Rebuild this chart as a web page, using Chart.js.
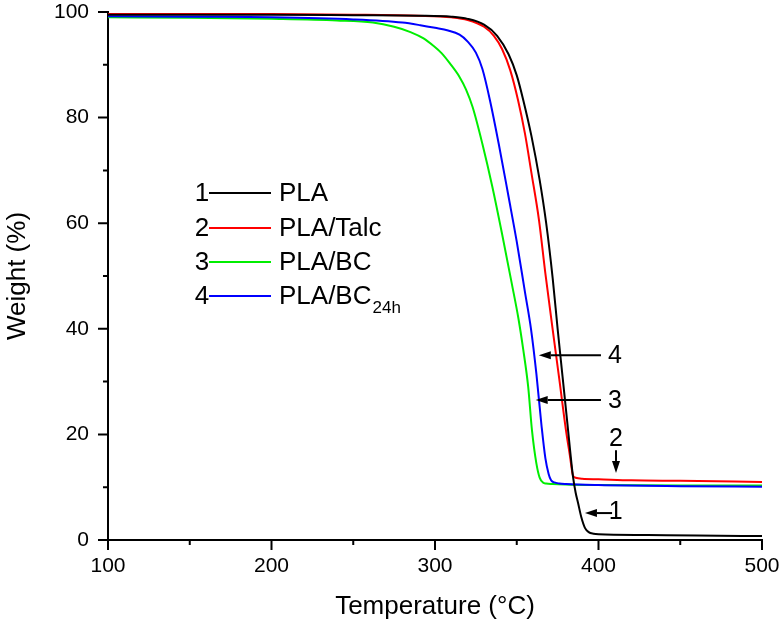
<!DOCTYPE html>
<html><head><meta charset="utf-8">
<script src="https://cdn.jsdelivr.net/npm/chart.js@4/dist/chart.umd.min.js"></script>
<style>html,body{margin:0;padding:0;background:#fff}</style>
</head><body>
<canvas id="c" width="782" height="625"></canvas>
<script>
// ---- data ----
const tempPLA   = [100,150,200,250,290,310,320,330,338,345,350,354,359,364,368,372,375,378,381,384.4,386,387.5,389.5,391.7,394,397,400,430,460,500];
const weightPLA = [99.5,99.5,99.5,99.4,99.3,99.1,98.7,97.6,95.5,92,88,83.3,76.5,68.2,60,49.5,40,31,22,12,9,7,4.3,2.3,1.5,1.2,1.1,0.95,0.85,0.75];

const tempTalc   = [100,150,200,250,290,310,320,330,336,341,346,350.8,355,359,363.6,367.5,372,376,380,382.5,384.4,386,390,400,420,450,500];
const weightTalc = [99.6,99.6,99.6,99.5,99.3,99.0,98.5,97.2,95.5,93,89,83.3,77,69.5,60.6,50.5,39.8,30.5,21,16,12.2,11.8,11.6,11.5,11.3,11.2,11.0];

const tempBC   = [100,150,200,240,262,275,285,293,299,304,309,315,319,323,329,335,341,347,351,354,357,359.3,362,364,366,368,372,380,400,450,500];
const weightBC = [99.0,98.9,98.7,98.4,98.0,97.2,96.2,95.0,93.6,92.2,90.3,87.7,85.3,82,75,67,58,48.5,42,36,29,20.8,14.5,11.8,10.9,10.7,10.6,10.5,10.4,10.3,10.3];

const tempBC24   = [100,150,200,250,280,291,300,308,315,320,325,329,333.6,339,345,350,355,358.7,362,365.2,367.5,369.5,371,373,376,380,400,450,500];
const weightBC24 = [99.2,99.1,99.0,98.6,98.0,97.5,97.0,96.5,95.7,94.4,92.3,89.2,83.3,75,65,56.5,47,40,31.5,21.5,15.5,12.5,11.3,10.9,10.7,10.6,10.4,10.2,10.1];

const seriesNumbers = ['1','2','3','4'];
const seriesNames   = ['PLA','PLA/Talc','PLA/BC','PLA/BC'];
const seriesSubs    = ['','','','24h'];
const seriesColors  = ['#000000','#ff0000','#00ee00','#0000ff'];

const xMajorTicks = [100,200,300,400,500];
const xMinorTicks = [150,250,350,450];
const yMajorTicks = [0,20,40,60,80,100];
const yMinorTicks = [10,30,50,70,90];

// annotation markers (data units): label position and arrow from -> to
const annLabels = ['4','3','2','1'];
const annLabelX = [410, 410, 410.7, 410.5];
const annLabelY = [35.0, 26.5, 19.3, 5.5];
const annFromX  = [401.5, 401.5, 410.7, 408.3];
const annFromY  = [35.0, 26.5, 17.0, 5.1];
const annToX    = [363.5, 361.6, 410.7, 391.7];
const annToY    = [35.0, 26.5, 12.7, 5.1];

const FONT = '"Liberation Sans", Arial, Helvetica, sans-serif';

function pts(t, w){ return t.map((v,i)=>({x:v,y:w[i]})); }
const allSeries = [[tempPLA,weightPLA],[tempTalc,weightTalc],[tempBC,weightBC],[tempBC24,weightBC24]];

const datasets = allSeries.map((s,i)=>({
  label: seriesNames[i] + seriesSubs[i],
  data: pts(s[0], s[1]),
  borderColor: seriesColors[i],
  borderWidth: 2,
  pointRadius: 0,
  fill: false,
  cubicInterpolationMode: 'monotone'
}));
datasets.forEach((d,i)=>{ d.order = [1,2,4,3][i]; });

function arrow(ctx, x1, y1, x2, y2){
  const ang = Math.atan2(y2-y1, x2-x1);
  const hl = 12, hw = 4;
  const bx = x2 - hl*Math.cos(ang), by = y2 - hl*Math.sin(ang);
  ctx.beginPath(); ctx.moveTo(x1,y1); ctx.lineTo(bx,by); ctx.stroke();
  ctx.beginPath();
  ctx.moveTo(x2,y2);
  ctx.lineTo(bx + hw*Math.sin(ang), by - hw*Math.cos(ang));
  ctx.lineTo(bx - hw*Math.sin(ang), by + hw*Math.cos(ang));
  ctx.closePath(); ctx.fill();
}

const decor = {
  id: 'decor',
  afterDraw(chart){
    const {ctx, scales:{x, y}} = chart;
    ctx.save();
    ctx.strokeStyle = '#000'; ctx.fillStyle = '#000'; ctx.lineWidth = 2;
    const xl = chart.chartArea.left, yb = chart.chartArea.bottom;
    ctx.beginPath();
    xMajorTicks.forEach(v=>{ const p=x.getPixelForValue(v); ctx.moveTo(p,yb); ctx.lineTo(p,yb+10); });
    xMinorTicks.forEach(v=>{ const p=x.getPixelForValue(v); ctx.moveTo(p,yb); ctx.lineTo(p,yb+5); });
    yMajorTicks.forEach(v=>{ const p=y.getPixelForValue(v); ctx.moveTo(xl,p); ctx.lineTo(xl-10,p); });
    yMinorTicks.forEach(v=>{ const p=y.getPixelForValue(v); ctx.moveTo(xl,p); ctx.lineTo(xl-5,p); });
    ctx.stroke();

    // legend
    const rowY = [193, 228, 262, 296];
    ctx.textBaseline = 'middle';
    seriesNames.forEach((n,i)=>{
      const ry = rowY[i];
      ctx.fillStyle = '#000';
      ctx.font = '26px ' + FONT;
      ctx.textAlign = 'center';
      ctx.fillText(seriesNumbers[i], 202, ry+1);
      ctx.strokeStyle = seriesColors[i]; ctx.lineWidth = 2;
      ctx.beginPath(); ctx.moveTo(209, ry); ctx.lineTo(271, ry); ctx.stroke();
      ctx.textAlign = 'left';
      ctx.fillText(n, 279, ry+1);
      if (seriesSubs[i]) {
        const w = ctx.measureText(n).width;
        ctx.font = '17px ' + FONT;
        ctx.fillText(seriesSubs[i], 279 + w + 1, ry + 12);
      }
    });

    // annotation arrows
    ctx.strokeStyle = '#000'; ctx.fillStyle = '#000'; ctx.lineWidth = 2;
    ctx.font = '25px ' + FONT; ctx.textAlign = 'center'; ctx.textBaseline = 'middle';
    annLabels.forEach((t,i)=>{
      ctx.fillText(t, x.getPixelForValue(annLabelX[i]), y.getPixelForValue(annLabelY[i]) + 1);
      arrow(ctx, x.getPixelForValue(annFromX[i]), y.getPixelForValue(annFromY[i]),
                 x.getPixelForValue(annToX[i]), y.getPixelForValue(annToY[i]));
    });
    ctx.restore();
  }
};

function zeroPad(s){ s.paddingTop = 0; s.paddingBottom = 0; s.paddingLeft = 0; s.paddingRight = 0; }

new Chart(document.getElementById('c'), {
  type: 'line',
  data: { datasets },
  plugins: [decor],
  options: {
    responsive: false,
    animation: false,
    layout: { padding: { top: 12, right: 20, left: 0, bottom: 0 } },
    plugins: { legend: { display: false }, tooltip: { enabled: false } },
    scales: {
      x: {
        type: 'linear', min: 100, max: 500,
        afterFit: s => { s.height = 85; zeroPad(s); },
        afterBuildTicks: s => { s.ticks = xMajorTicks.map(v=>({value:v})); },
        border: { display: true, color: '#000', width: 2 },
        grid: { display: true, drawOnChartArea: false, drawTicks: false },
        ticks: { color: '#000', font: { family: FONT, size: 21 }, padding: 14, maxRotation: 0 },
        title: { display: true, text: 'Temperature (°C)', color: '#000',
                 font: { family: FONT, size: 26 }, padding: { top: 0, bottom: 3 } }
      },
      y: {
        type: 'linear', min: 0, max: 100,
        afterFit: s => { s.width = 108; zeroPad(s); },
        afterBuildTicks: s => { s.ticks = yMajorTicks.map(v=>({value:v})); },
        border: { display: true, color: '#000', width: 2 },
        grid: { display: true, drawOnChartArea: false, drawTicks: false },
        ticks: { color: '#000', font: { family: FONT, size: 21 }, padding: 19 },
        title: { display: true, text: 'Weight (%)', color: '#000',
                 font: { family: FONT, size: 26 }, padding: { top: 2, bottom: 0 } }
      }
    }
  }
});
</script>
</body></html>
